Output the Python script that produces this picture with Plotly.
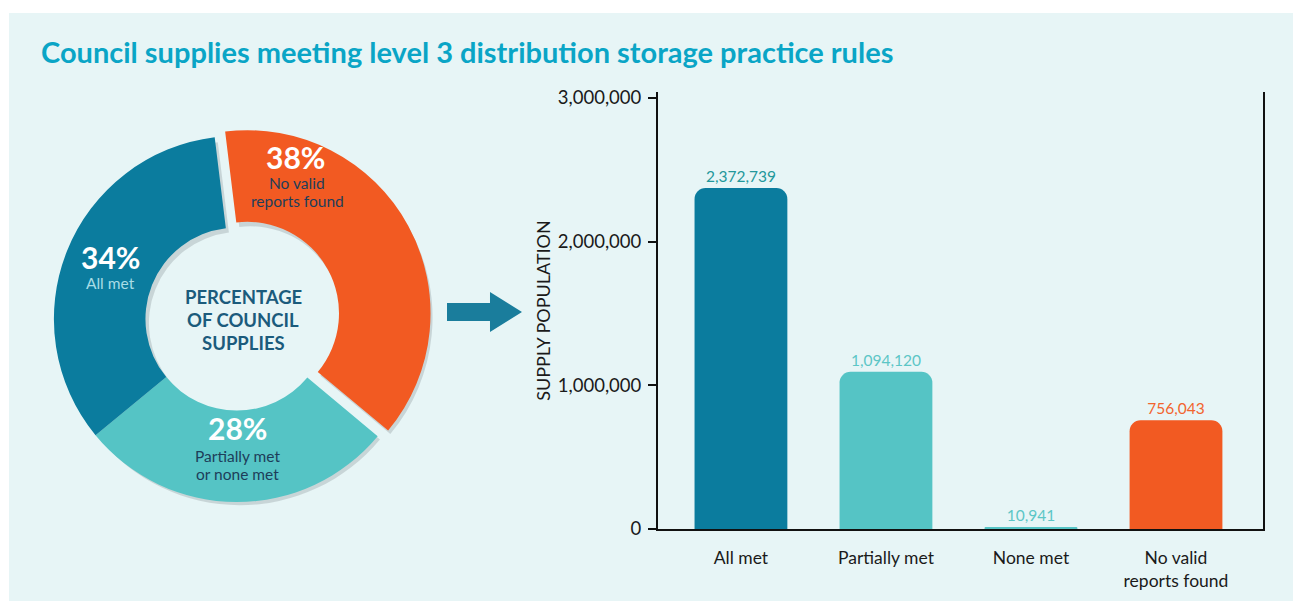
import plotly.graph_objects as go

W, H = 1293, 601

# donut data
pie_labels = ["No valid reports found", "Partially met or none met", "All met"]
pie_values = [38, 28, 34]
pie_pull = [0.065, 0, 0]

# bar data
bar_categories = ["All met", "Partially met", "None met", "No valid<br>reports found"]
bar_values = [2372739, 1094120, 10941, 756043]
y_ticks = [0, 1000000, 2000000, 3000000]
y_ticktext = ["0", "1,000,000", "2,000,000", "3,000,000"]

BLUE = "#0B7C9E"
TEAL = "#55C4C5"
ORANGE = "#F25A22"
NAVY = "#1D3E5A"

pie_colors = [ORANGE, TEAL, BLUE]
bar_colors = [BLUE, TEAL, TEAL, ORANGE]
value_colors = ["#23989B", "#5CC6C6", "#5CC6C6", "#F2642E"]


def px(x):
    return x / W


def py(y):
    return 1 - y / H


FONT = "Lato"

fig = go.Figure()

# soft shadow under the donut
fig.add_trace(
    go.Pie(
        values=pie_values,
        pull=pie_pull,
        hole=0.5,
        sort=False,
        direction="clockwise",
        rotation=-7,
        marker=dict(colors=["rgba(60,70,80,0.18)"] * 3, line=dict(width=0)),
        textinfo="none",
        hoverinfo="skip",
        showlegend=False,
        domain=dict(x=[px(46), px(434)], y=[py(518), py(128)]),
    )
)

fig.add_trace(
    go.Pie(
        labels=pie_labels,
        values=pie_values,
        pull=pie_pull,
        hole=0.5,
        sort=False,
        direction="clockwise",
        rotation=-7,
        marker=dict(colors=pie_colors, line=dict(width=0)),
        textinfo="none",
        showlegend=False,
        domain=dict(x=[px(42), px(432)], y=[py(514), py(124)]),
        hovertemplate="<b>%{label}</b><br>%{value}%<extra></extra>",
    )
)

fig.add_trace(
    go.Bar(
        x=bar_categories,
        y=bar_values,
        marker=dict(color=bar_colors, cornerradius=11, line=dict(width=0)),
        width=0.64,
        text=[f"{v:,}" for v in bar_values],
        textposition="outside",
        textfont=dict(color=value_colors, size=15.5, family=FONT),
        cliponaxis=False,
        showlegend=False,
        hovertemplate="<b>%{x}</b><br>%{y:,.0f}<extra></extra>",
    )
)

fig.update_layout(
    width=W,
    height=H,
    margin=dict(l=0, r=0, t=0, b=0),
    paper_bgcolor="white",
    plot_bgcolor="rgba(0,0,0,0)",
    font=dict(family=FONT, color="#1a1a1a"),
    xaxis=dict(
        domain=[px(658), px(1263)],
        range=[-0.572, 3.6],
        automargin=False,
        showline=True,
        linecolor="#111111",
        linewidth=2,
        ticks="",
        ticklabelstandoff=12,
        tickfont=dict(size=17.5, color="#1a1a1a"),
        showgrid=False,
        zeroline=False,
    ),
    yaxis=dict(
        domain=[py(529), py(92)],
        range=[0, 3040000],
        automargin=False,
        tickvals=y_ticks,
        ticktext=y_ticktext,
        showline=True,
        mirror=True,
        linecolor="#111111",
        linewidth=2,
        ticks="outside",
        ticklen=8,
        tickwidth=2,
        tickcolor="#111111",
        ticklabelstandoff=3,
        tickfont=dict(size=18.5, color="#1a1a1a"),
        showgrid=False,
        zeroline=False,
        title=dict(text="SUPPLY POPULATION", font=dict(size=18, color="#1a1a1a"), standoff=2),
    ),
)

# background panel
fig.add_shape(
    type="rect", xref="paper", yref="paper",
    x0=px(9), x1=1, y0=0, y1=py(13),
    fillcolor="#E7F5F6", line=dict(width=0), layer="below",
)

# arrow between the charts
arrow = [(447, 303), (490, 303), (490, 292), (522, 312), (490, 332), (490, 321), (447, 321)]
path = "M " + " L ".join(f"{px(x):.5f},{py(y):.5f}" for x, y in arrow) + " Z"
fig.add_shape(type="path", xref="paper", yref="paper", path=path,
              fillcolor="#1A7D9C", line=dict(width=0))

fig.add_annotation(
    text="<b>Council supplies meeting level 3 distribution storage practice rules</b>",
    xref="paper", yref="paper", x=px(39), y=py(51), xanchor="left", yanchor="middle",
    showarrow=False, font=dict(size=29, color="#0AA5C6", family=FONT),
)

# donut labels
donut_text = [
    ("<b>38%</b>", 295, 157, 30, "white"),
    ("No valid", 297, 183, 15.5, NAVY),
    ("reports found", 297, 201, 15.5, NAVY),
    ("<b>34%</b>", 110, 257, 30, "white"),
    ("All met", 110, 283, 15.5, "#A8DDE6"),
    ("<b>28%</b>", 237, 428, 30, "white"),
    ("Partially met", 237, 456, 15.5, NAVY),
    ("or none met", 237, 474, 15.5, NAVY),
    ("<b>PERCENTAGE</b>", 243, 297, 18.5, "#1B5B7C"),
    ("<b>OF COUNCIL</b>", 243, 320, 18.5, "#1B5B7C"),
    ("<b>SUPPLIES</b>", 243, 343, 18.5, "#1B5B7C"),
]
for txt, x, y, size, color in donut_text:
    fig.add_annotation(
        text=txt, xref="paper", yref="paper", x=px(x), y=py(y),
        xanchor="center", yanchor="middle", showarrow=False,
        font=dict(size=size, color=color, family=FONT),
    )

fig.write_html(
    "out.html",
    config={"displayModeBar": False},
    post_script="document.body.style.margin='0';document.body.style.overflow='hidden';",
)
